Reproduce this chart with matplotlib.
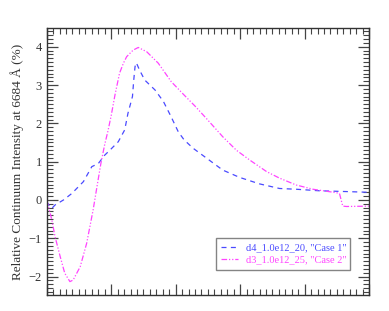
import matplotlib
matplotlib.use("Agg")
import matplotlib.pyplot as plt
from matplotlib.ticker import MultipleLocator, NullFormatter

# ---- data ----
case1_x = [0.00, 0.04, 0.08, 0.13, 0.26, 0.39, 0.57, 0.70, 0.80, 0.90, 0.98,
           1.11, 1.21, 1.26, 1.33, 1.35, 1.37, 1.39, 1.44, 1.52, 1.68, 1.81,
           1.93, 2.04, 2.13, 2.27, 2.48, 2.73, 2.99, 3.30, 3.61, 3.87, 4.23,
           4.64, 5.00]
case1_y = [-0.04, -0.15, -0.22, -0.13, 0.00, 0.17, 0.48, 0.87, 0.95, 1.17, 1.30,
           1.52, 1.83, 2.26, 2.70, 3.13, 3.48, 3.58, 3.39, 3.13, 2.87, 2.57,
           2.17, 1.78, 1.57, 1.35, 1.09, 0.78, 0.59, 0.42, 0.30, 0.28, 0.24,
           0.22, 0.20]

case2_x = [0.00, 0.04, 0.08, 0.13, 0.21, 0.28, 0.36, 0.41, 0.52, 0.62, 0.72,
           0.78, 0.84, 0.90, 0.95, 1.00, 1.06, 1.13, 1.19, 1.24, 1.34, 1.42,
           1.55, 1.73, 1.93, 2.13, 2.30, 2.48, 2.73, 2.94, 3.15, 3.41, 3.61,
           3.87, 4.13, 4.49, 4.54, 4.59, 4.65, 5.00]
case2_y = [0.00, -0.25, -0.52, -0.96, -1.48, -1.91, -2.13, -2.09, -1.74, -1.13, -0.26,
           0.35, 0.95, 1.45, 1.80, 2.20, 2.75, 3.31, 3.57, 3.74, 3.91, 3.98,
           3.87, 3.57, 3.09, 2.74, 2.45, 2.12, 1.65, 1.30, 1.04, 0.74, 0.57,
           0.39, 0.28, 0.19, 0.17, -0.16, -0.17, -0.16]

labels = ['d4_1.0e12_20, "Case 1"', 'd3_1.0e12_25, "Case 2"']
colors = ["#4a4aff", "#ff44ff"]

plt.rcParams['font.family'] = ['Liberation Serif', 'DejaVu Serif']

fig = plt.figure(figsize=(3.89, 3.11), dpi=100)
ax = fig.add_axes([0.120, 0.0514, 0.829, 0.8576])

ax.plot(case1_x, case1_y, color=colors[0], lw=0.9, dashes=(4.0, 3.5), label=labels[0])
ax.plot(case2_x, case2_y, color=colors[1], lw=0.9,
        dashes=(4.5, 1.5, 1.0, 1.5, 1.0, 1.5), label=labels[1])

ax.set_xlim(0, 5)
ax.set_ylim(-2.48, 4.48)
ax.xaxis.set_major_locator(MultipleLocator(1))
ax.xaxis.set_minor_locator(MultipleLocator(0.1))
ax.xaxis.set_major_formatter(NullFormatter())
ax.yaxis.set_major_locator(MultipleLocator(1))
ax.yaxis.set_minor_locator(MultipleLocator(0.1))

ax.tick_params(which='both', direction='in', top=True, right=True,
               color='#444444', labelcolor='#333333', labelsize=9)
ax.tick_params(which='major', length=8, width=0.9)
ax.tick_params(which='minor', length=4, width=0.8)
for s in ax.spines.values():
    s.set_color('#333333')
    s.set_linewidth(1.0)

ax.set_ylabel('Relative Continuum Intensity at 6684 Å (%)', fontsize=9.5,
              color='#333333', labelpad=3)

leg = ax.legend(loc='lower left', bbox_to_anchor=(0.525, 0.094, 0.415, 0.138),
                mode='expand', fontsize=7.5, handlelength=1.6, handletextpad=0.8,
                fancybox=False, borderpad=0.5, labelspacing=0.3, borderaxespad=0)
leg.get_frame().set_edgecolor('#666666')
leg.get_frame().set_linewidth(1.0)
for t, c in zip(leg.get_texts(), colors):
    t.set_color(c)

fig.savefig('out.png', dpi=100)
